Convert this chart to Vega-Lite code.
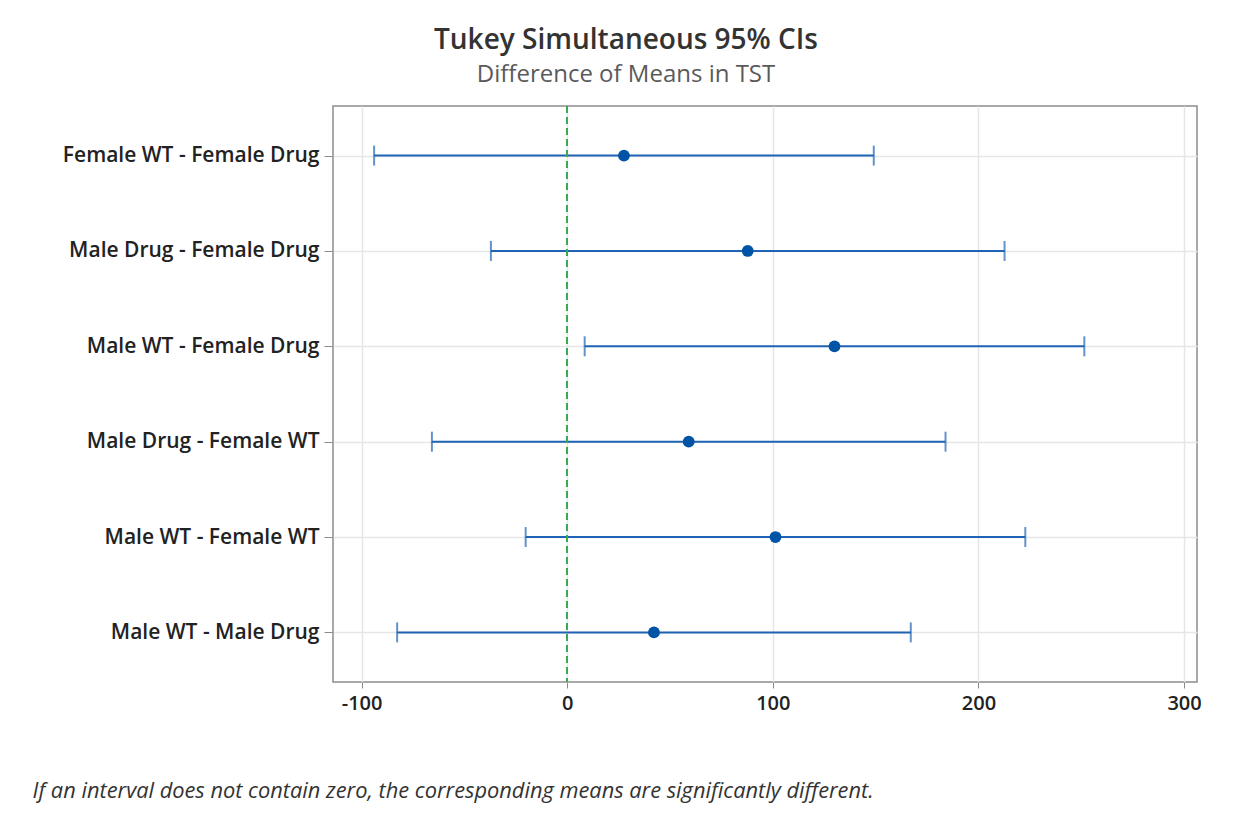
{
  "$schema": "https://vega.github.io/schema/vega-lite/v6.json",
  "width": 864,
  "height": 576,
  "autosize": {"type": "none"},
  "padding": {"left": 333, "top": 106, "right": 50, "bottom": 148},
  "background": "white",
  "title": {
    "text": "Tukey Simultaneous 95% CIs",
    "subtitle": "Difference of Means in TST",
    "anchor": "middle",
    "frame": "group",
    "dx": -139,
    "offset": 18,
    "font": "Open Sans",
    "fontSize": 28,
    "fontWeight": 600,
    "color": "#333333",
    "subtitleFont": "Open Sans",
    "subtitleFontSize": 24,
    "subtitleFontWeight": "normal",
    "subtitleColor": "#5a5a5a",
    "subtitlePadding": 8
  },
  "config": {
    "view": {"stroke": "#8c8c8c", "strokeWidth": 1.5},
    "axis": {
      "labelFont": "Open Sans",
      "labelFontWeight": 600,
      "labelColor": "#222222",
      "tickColor": "#8c8c8c",
      "gridColor": "#e6e6e6",
      "gridWidth": 1.5,
      "domain": false
    }
  },
  "data": {
    "values": [
      {"comparison": "Female WT - Female Drug", "diff": 27.6, "lower": -93.9, "upper": 149.1},
      {"comparison": "Male Drug - Female Drug", "diff": 87.8, "lower": -37.1, "upper": 212.7},
      {"comparison": "Male WT - Female Drug", "diff": 130.0, "lower": 8.5, "upper": 251.5},
      {"comparison": "Male Drug - Female WT", "diff": 59.1, "lower": -65.8, "upper": 184.0},
      {"comparison": "Male WT - Female WT", "diff": 101.3, "lower": -20.2, "upper": 222.8},
      {"comparison": "Male WT - Male Drug", "diff": 42.2, "lower": -82.7, "upper": 167.1}
    ]
  },
  "encoding": {
    "y": {
      "field": "comparison",
      "type": "nominal",
      "sort": null,
      "scale": {"type": "point", "padding": 0.52},
      "axis": {
        "title": null,
        "grid": true,
        "labelFontSize": 21,
        "labelLimit": 0,
        "tickSize": 9,
        "labelPadding": 5
      }
    }
  },
  "layer": [
    {
      "mark": {"type": "rule", "color": "#1f64b4", "strokeWidth": 2},
      "encoding": {
        "x": {
          "field": "lower",
          "type": "quantitative",
          "scale": {"domain": [-113.9, 306.3], "nice": false, "zero": false},
          "axis": {
            "values": [-100, 0, 100, 200, 300],
            "labelExpr": "datum.value + ''",
            "labelFontSize": 20,
            "tickSize": 6,
            "labelPadding": 5,
            "title": "If an interval does not contain zero, the corresponding means are significantly different.",
            "titleFont": "Open Sans",
            "titleFontStyle": "italic",
            "titleFontWeight": "normal",
            "titleFontSize": 21.8,
            "titleColor": "#333333",
            "titleAnchor": "start",
            "titleAlign": "left",
            "titleBaseline": "alphabetic",
            "titleX": -301,
            "titleY": 115
          }
        },
        "x2": {"field": "upper"}
      }
    },
    {
      "mark": {"type": "tick", "orient": "vertical", "color": "#1f64b4", "thickness": 2, "size": 20},
      "encoding": {"x": {"field": "lower", "type": "quantitative"}}
    },
    {
      "mark": {"type": "tick", "orient": "vertical", "color": "#1f64b4", "thickness": 2, "size": 20},
      "encoding": {"x": {"field": "upper", "type": "quantitative"}}
    },
    {
      "mark": {"type": "circle", "color": "#0054a6", "opacity": 1, "size": 140},
      "encoding": {"x": {"field": "diff", "type": "quantitative"}}
    },
    {
      "mark": {"type": "rule", "color": "#3aaa52", "strokeWidth": 1.6, "strokeDash": [7, 4]},
      "encoding": {"x": {"datum": 0}, "y": null}
    }
  ]
}
